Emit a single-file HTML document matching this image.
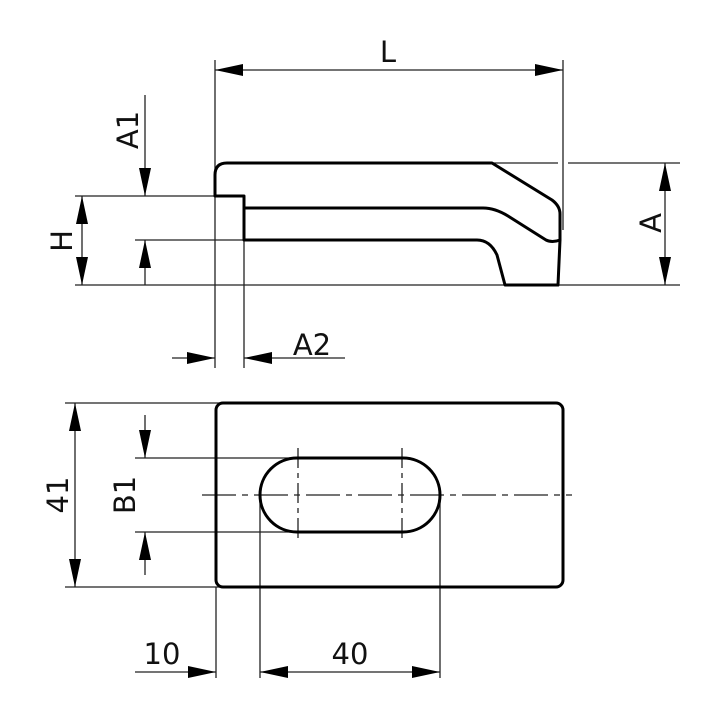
<!DOCTYPE html>
<html><head><style>html,body{margin:0;padding:0;background:#fff}svg{display:block}text{font-family:"DejaVu Sans","Liberation Sans",sans-serif;fill:#111}</style></head>
<body>
<svg width="720" height="720" viewBox="0 0 720 720" xmlns="http://www.w3.org/2000/svg">
<defs>
<marker id="a" viewBox="0 0 10 10" refX="10" refY="5" markerWidth="28" markerHeight="12" markerUnits="userSpaceOnUse" preserveAspectRatio="none" orient="auto-start-reverse"><path d="M0,0 L10,5 L0,10 z" fill="#000"/></marker>
</defs>
<g stroke="#222" stroke-width="1.3" fill="none">
<line x1="215" y1="60" x2="215" y2="368"/>
<line x1="563" y1="60" x2="563" y2="230"/>
<line x1="244" y1="240" x2="244" y2="368"/>
<line x1="75" y1="196" x2="244" y2="196"/>
<line x1="135" y1="240" x2="244" y2="240"/>
<line x1="75" y1="285" x2="680" y2="285"/>
<line x1="492" y1="163" x2="558" y2="163"/>
<line x1="568" y1="163" x2="680" y2="163"/>
<line x1="215" y1="70" x2="563" y2="70" marker-start="url(#a)" marker-end="url(#a)"/>
<line x1="665" y1="163" x2="665" y2="285" marker-start="url(#a)" marker-end="url(#a)"/>
<line x1="82" y1="196" x2="82" y2="285" marker-start="url(#a)" marker-end="url(#a)"/>
<line x1="145" y1="95" x2="145" y2="196" marker-end="url(#a)"/>
<line x1="145" y1="285" x2="145" y2="240" marker-end="url(#a)"/>
<line x1="172" y1="358" x2="215" y2="358" marker-end="url(#a)"/>
<line x1="345" y1="358" x2="244" y2="358" marker-end="url(#a)"/>
<line x1="65" y1="403" x2="300" y2="403"/>
<line x1="65" y1="587" x2="300" y2="587"/>
<line x1="135" y1="458" x2="300" y2="458"/>
<line x1="135" y1="532" x2="300" y2="532"/>
<line x1="216" y1="587" x2="216" y2="678"/>
<line x1="260" y1="495" x2="260" y2="678"/>
<line x1="440" y1="495" x2="440" y2="678"/>
<line x1="75" y1="403" x2="75" y2="587" marker-start="url(#a)" marker-end="url(#a)"/>
<line x1="145" y1="415" x2="145" y2="458" marker-end="url(#a)"/>
<line x1="145" y1="575" x2="145" y2="532" marker-end="url(#a)"/>
<line x1="135" y1="672" x2="216" y2="672" marker-end="url(#a)"/>
<line x1="260" y1="672" x2="440" y2="672" marker-start="url(#a)" marker-end="url(#a)"/>
<line x1="202" y1="495" x2="572" y2="495" stroke-dasharray="34,6,6,6"/>
<line x1="298" y1="448" x2="298" y2="543" stroke-dasharray="20,5,5,5"/>
<line x1="402" y1="448" x2="402" y2="543" stroke-dasharray="20,5,5,5"/>
</g>
<g stroke="#000" stroke-width="3" fill="none" stroke-linejoin="round">
<path d="M215,196 L215,175 Q215,163 227,163 L492,163 L552,200 Q560,206 560,214 L560,240 L558,285 L505,285 L497,255 Q490,240 477,240 L244,240 L244,196 Z"/>
<path d="M244,208 L483,208 Q495,208 508,216 L546,240 Q552,243 560,240"/>
<rect x="216" y="403" width="347" height="184" rx="7"/>
<rect x="260" y="458" width="180" height="74" rx="37"/>
</g>
<g font-size="29">
<text x="388" y="62" text-anchor="middle">L</text>
<text x="312" y="355" text-anchor="middle">A2</text>
<text x="162" y="664" text-anchor="middle">10</text>
<text x="350" y="664" text-anchor="middle">40</text>
<text transform="translate(138,130) rotate(-90)" text-anchor="middle">A1</text>
<text transform="translate(72,241) rotate(-90)" text-anchor="middle">H</text>
<text transform="translate(661,223) rotate(-90)" text-anchor="middle">A</text>
<text transform="translate(68,495) rotate(-90)" text-anchor="middle">41</text>
<text transform="translate(135,495) rotate(-90)" text-anchor="middle">B1</text>
</g>
</svg>
</body></html>
